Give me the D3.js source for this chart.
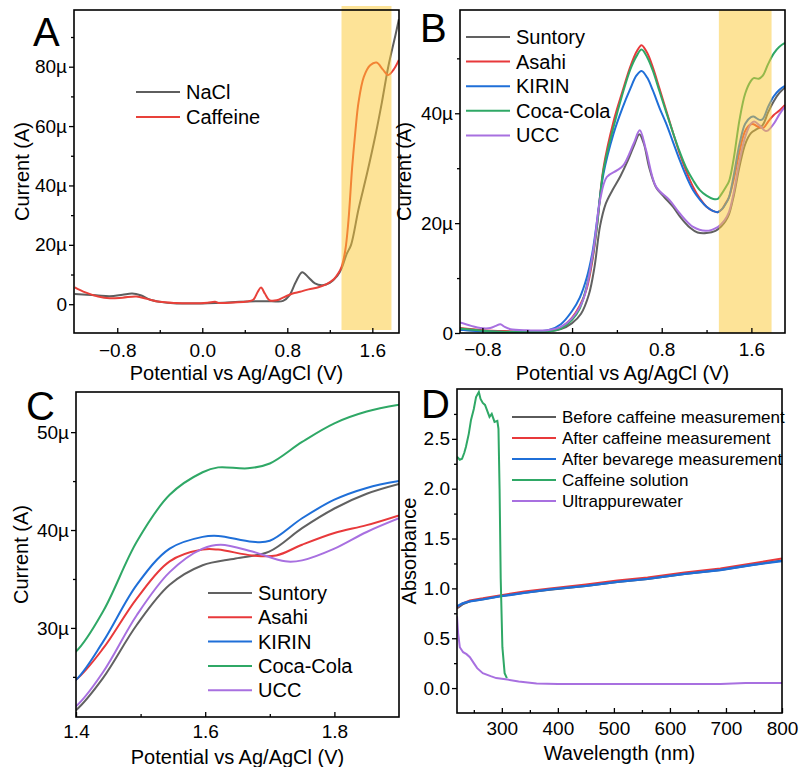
<!DOCTYPE html>
<html>
<head>
<meta charset="utf-8">
<script src="https://cdn.jsdelivr.net/npm/d3@7"></script>
<style>
    body { margin: 0; background: #fff; }
    svg text { font-family: "Liberation Sans", Arial, Helvetica, sans-serif; fill: #000; }
</style>
</head>
<body>
<svg id="fig" width="800" height="767"></svg>
<script>
// ---------- data (V, µA) ----------
const nacl = [[-1.2,3.4],[-1.0,3.0],[-0.87,2.7],[-0.75,3.2],[-0.66,3.6],[-0.58,3.0],[-0.49,1.5],[-0.38,0.7],
    [-0.27,0.3],[-0.1,0.2],[0.05,0.3],[0.2,0.5],[0.35,0.8],[0.5,1.0],[0.65,1.0],[0.76,1.1],[0.82,3.0],[0.88,7.5],
    [0.94,10.8],[1.0,9.0],[1.06,7.0],[1.13,6.4],[1.2,7.2],[1.27,9.5],[1.31,12],[1.36,17],[1.40,20],[1.47,32],
    [1.55,44],[1.63,57],[1.69,68],[1.75,80],[1.82,91],[1.85,96]];
const caffeine = [[-1.2,5.7],[-1.1,4.0],[-0.98,2.6],[-0.87,2.0],[-0.75,2.2],[-0.62,2.6],[-0.52,1.8],[-0.4,0.8],
    [-0.25,0.4],[-0.1,0.3],[0.05,0.5],[0.12,0.8],[0.16,0.4],[0.3,0.6],[0.42,0.9],[0.48,1.5],[0.52,4.0],[0.552,5.6],
    [0.59,3.5],[0.63,1.4],[0.70,1.3],[0.77,2.4],[0.85,3.6],[0.92,4.2],[1.0,5.0],[1.1,5.8],[1.17,6.8],[1.24,8.5],
    [1.28,10.4],[1.31,12.5],[1.345,18],[1.375,28],[1.41,46],[1.44,58],[1.47,68],[1.52,76.6],[1.58,80.5],
    [1.64,81.4],[1.70,79],[1.75,77.2],[1.80,79],[1.85,82.3]];

const suntory = [[-1.0,0.6],[-0.8,0.4],[-0.6,0.3],[-0.4,0.2],[-0.2,0.3],[-0.1,0.7],[0.0,1.8],[0.08,3.5],[0.15,7],
    [0.2,12],[0.25,19.5],[0.3,23.5],[0.36,26],[0.43,28.5],[0.5,31.5],[0.56,34.5],[0.6,36.2],[0.64,34.5],[0.69,30],
    [0.75,26.5],[0.82,24.8],[0.9,23],[0.97,21],[1.05,19.2],[1.12,18.3],[1.2,18.2],[1.28,18.6],[1.33,19.4],[1.37,20.4],
    [1.4,21.6],[1.442,24.9],[1.494,30.3],[1.545,34.4],[1.596,36.4],[1.647,37.1],[1.699,37.8],[1.75,40.2],[1.80,42.2],
    [1.85,43.7],[1.9,44.7]];
const asahi = [[-1.0,0.9],[-0.8,0.5],[-0.6,0.3],[-0.4,0.2],[-0.2,0.4],[-0.1,1.0],[0.0,2.8],[0.07,5],[0.13,8],
    [0.18,13],[0.22,19],[0.28,30],[0.37,38.5],[0.45,44],[0.52,48.5],[0.575,51.2],[0.62,52.4],[0.67,51],[0.72,48.4],
    [0.78,44.5],[0.84,40.5],[0.9,36.5],[0.96,32.7],[1.02,29.4],[1.08,26.6],[1.14,24.5],[1.2,23],[1.26,22.2],[1.3,22.0],
    [1.34,22.6],[1.37,23.6],[1.4,24.7],[1.442,27.9],[1.494,33.0],[1.545,36.8],[1.596,38.0],[1.62,38.0],[1.673,37.4],
    [1.71,37.4],[1.75,38.5],[1.80,39.7],[1.85,40.5],[1.9,41.5]];
const kirin = [[-1.0,0.6],[-0.8,0.3],[-0.6,0.2],[-0.4,0.2],[-0.2,0.6],[-0.1,1.6],[0.0,4.0],[0.07,6.5],[0.13,10],
    [0.18,14.5],[0.22,20],[0.28,29],[0.37,36.3],[0.45,41],[0.52,44.5],[0.575,46.9],[0.62,47.7],[0.67,46.5],[0.72,44.2],
    [0.78,41],[0.84,38.1],[0.9,34.8],[0.96,31.5],[1.02,28.5],[1.08,26],[1.14,24.3],[1.2,23],[1.26,22.2],[1.3,22.0],
    [1.34,22.6],[1.37,23.5],[1.4,24.7],[1.442,28.6],[1.494,34.4],[1.545,38.1],[1.596,39.3],[1.62,39.4],[1.673,38.8],
    [1.70,38.9],[1.75,41.2],[1.80,43.1],[1.85,44.3],[1.9,45.0]];
const cocaCola = [[-1.0,0.8],[-0.8,0.4],[-0.6,0.2],[-0.4,0.2],[-0.2,0.3],[-0.1,0.8],[0.0,2.4],[0.07,4.5],[0.13,8.5],
    [0.18,13.5],[0.22,19],[0.28,29.6],[0.37,37.5],[0.45,43.5],[0.52,48],[0.575,50.4],[0.62,51.6],[0.67,50.2],[0.72,47.8],
    [0.78,44],[0.84,40.2],[0.9,36.5],[0.96,33],[1.02,30],[1.08,27.8],[1.14,26],[1.2,25],[1.26,24.4],[1.3,24.4],
    [1.33,25.2],[1.37,26.5],[1.4,27.6],[1.442,31.7],[1.494,38.8],[1.545,43.6],[1.596,45.9],[1.62,46.4],[1.666,46.3],
    [1.70,46.8],[1.75,49.0],[1.80,50.9],[1.85,52.1],[1.9,52.8]];
const ucc = [[-1.0,1.9],[-0.9,1.3],[-0.818,0.9],[-0.73,0.9],[-0.68,1.3],[-0.64,1.6],[-0.6,1.1],[-0.55,0.7],
    [-0.4,0.5],[-0.22,0.5],[-0.1,1.1],[0.0,2.7],[0.1,6.1],[0.19,15.1],[0.25,24.2],[0.31,28.4],[0.4,29.6],[0.457,30.5],
    [0.55,34.5],[0.604,36.9],[0.66,33.3],[0.75,26.6],[0.87,24.2],[0.96,21.8],[1.08,19.3],[1.196,18.6],[1.3,19.3],
    [1.36,20.5],[1.4,22.0],[1.442,25.5],[1.494,31.3],[1.545,35.7],[1.596,38.1],[1.624,38.5],[1.673,37.8],[1.724,36.8],
    [1.75,36.9],[1.80,38.1],[1.85,39.8],[1.9,41.2]];

// UV-vis (nm, absorbance)
const beforeCaf = [[220,0.80],[230,0.84],[243,0.87],[266,0.89],[296,0.92],[340,0.955],[386,0.985],[450,1.025],
    [506,1.065],[560,1.095],[626,1.145],[690,1.185],[746,1.235],[800,1.28]];
const afterCaf = [[220,0.81],[230,0.85],[243,0.88],[266,0.90],[296,0.93],[340,0.97],[386,1.00],[450,1.04],
    [506,1.08],[560,1.11],[626,1.16],[690,1.20],[746,1.25],[800,1.30]];
const afterBev = [[220,0.82],[230,0.85],[243,0.87],[266,0.89],[296,0.92],[340,0.955],[386,0.99],[450,1.025],
    [506,1.065],[560,1.095],[626,1.145],[690,1.185],[746,1.235],[800,1.275]];
const cafSolution = [[220,2.32],[225,2.29],[229,2.30],[233,2.36],[236,2.42],[241,2.55],[245,2.69],[250,2.80],
    [254,2.92],[257,2.95],[259,2.97],[262,2.90],[266,2.86],[270,2.84],[274,2.78],[278,2.72],[282,2.75],[287,2.67],
    [292,2.68],[294,2.60],[296,2.00],[298,1.10],[301,0.41],[305,0.15],[309,0.10]];
const water = [[220,0.72],[222,0.55],[225,0.41],[231,0.36],[237,0.34],[243,0.31],[250,0.25],[256,0.20],[266,0.15],
    [280,0.12],[290,0.10],[310,0.085],[330,0.065],[362,0.045],[400,0.04],[500,0.04],[600,0.04],[690,0.04],
    [735,0.05],[800,0.05]];

const aNames = ["NaCl", "Caffeine"];
const aColors = ["#5e5e5e", "#e8413a"];
const brandNames = ["Suntory", "Asahi", "KIRIN", "Coca-Cola", "UCC"];
const brandColors = ["#616161", "#e8393b", "#1f6fd8", "#2fa866", "#a870e0"];
const uvNames = ["Before caffeine measurement", "After caffeine measurement", "After bevarege measurement",
    "Caffeine solution", "Ultrappurewater"];
const uvColors = ["#5a5a5a", "#e8393b", "#1f6fd8", "#2fa866", "#a870e0"];
const highlight = [1.31, 1.78];

const svg = d3.select("#fig");
let clipId = 0;

function makePanel(o) {
    let p = {};
    let [x0, y0, x1, y1] = o.box;
    p.x = d3.scaleLinear().domain(o.xDomain).range([x0, x1]);
    p.y = d3.scaleLinear().domain(o.yDomain).range([y1, y0]);
    let id = "clip" + (clipId++);
    svg.append("defs").append("clipPath").attr("id", id)
        .append("rect").attr("x", x0).attr("y", y0).attr("width", x1 - x0).attr("height", y1 - y0);
    p.lines = svg.append("g").attr("clip-path", "url(#" + id + ")");
    p.line = d3.line().x(d => p.x(d[0])).y(d => p.y(d[1])).curve(o.curve || d3.curveCatmullRom.alpha(0.5));

    p.finish = function () {
        svg.append("g").attr("transform", "translate(0," + y1 + ")")
            .call(d3.axisBottom(p.x).tickValues(o.xMajor).tickFormat(o.xFmt)
                .tickSizeInner(-5).tickSizeOuter(0).tickPadding(o.xPad))
            .attr("font-size", 19).attr("font-family", null);
        svg.append("g").attr("transform", "translate(0," + y1 + ")")
            .call(d3.axisBottom(p.x).tickValues(o.xMinor).tickFormat("").tickSizeInner(-3).tickSizeOuter(0));
        svg.append("g").attr("transform", "translate(" + x0 + ",0)")
            .call(d3.axisLeft(p.y).tickValues(o.yMajor).tickFormat(o.yFmt)
                .tickSizeInner(5).tickSizeOuter(0).tickPadding(2))
            .attr("font-size", 19).attr("font-family", null);
        svg.append("g").attr("transform", "translate(" + x0 + ",0)")
            .call(d3.axisLeft(p.y).tickValues(o.yMinor).tickFormat("").tickSizeInner(3).tickSizeOuter(0));
        svg.selectAll(".domain").remove();
        svg.selectAll(".tick line").attr("stroke", "#000").attr("stroke-width", 1.3);

        svg.append("rect").attr("x", x0).attr("y", y0).attr("width", x1 - x0).attr("height", y1 - y0)
            .attr("fill", "none").attr("stroke", "#000").attr("stroke-width", 1.6);

        svg.append("text").attr("x", (x0 + x1) / 2).attr("y", y1 + 47)
            .attr("text-anchor", "middle").attr("font-size", 20).text(o.xTitle);
        svg.append("text").attr("transform", "translate(" + o.yTitleX + "," + ((y0 + y1) / 2) + ") rotate(-90)")
            .attr("text-anchor", "middle").attr("font-size", 20).text(o.yTitle);
        svg.append("text").attr("x", o.letter[1]).attr("y", o.letter[2])
            .attr("font-size", 40).text(o.letter[0]);
    };

    p.legend = function (names, colors, lx, ly, step, size) {
        names.forEach((n, i) => {
            svg.append("line").attr("x1", lx).attr("x2", lx + 44)
                .attr("y1", ly + i * step).attr("y2", ly + i * step)
                .attr("stroke", colors[i]).attr("stroke-width", 2);
            svg.append("text").attr("x", lx + 50).attr("y", ly + i * step).attr("dy", "0.35em")
                .attr("font-size", size).text(n);
        });
    };
    return p;
}

const micro = d => d === 0 ? "0" : d + "µ";
const volt = d => d3.format(".1f")(d);

// ---------- A ----------
let pa = makePanel({
    box: [74, 10, 399, 333], xDomain: [-1.207, 1.851], yDomain: [-9.7, 99.1],
    xMajor: [-0.8, 0, 0.8, 1.6], xMinor: [-0.4, 0.4, 1.2], xFmt: volt, xPad: 11,
    yMajor: [0, 20, 40, 60, 80], yMinor: [10, 30, 50, 70, 90], yFmt: micro,
    xTitle: "Potential vs Ag/AgCl (V)", yTitle: "Current (A)", yTitleX: 29, letter: ["A", 33, 46]
});
[nacl, caffeine].forEach((s, i) => {
    pa.lines.append("path").datum(s).attr("d", pa.line).attr("fill", "none")
        .attr("stroke", aColors[i]).attr("stroke-width", 2);
});
svg.append("rect").attr("x", pa.x(highlight[0])).attr("width", pa.x(highlight[1]) - pa.x(highlight[0]))
    .attr("y", 6).attr("height", 324).attr("fill", "rgb(251,200,48)").attr("opacity", 0.5);
pa.finish();
pa.legend(aNames, aColors, 136, 92, 25, 20);

// ---------- B ----------
const brandSeries = [suntory, asahi, kirin, cocaCola, ucc];
let pb = makePanel({
    box: [460, 10, 785, 333], xDomain: [-1.0, 1.9], yDomain: [0, 58.8],
    xMajor: [-0.8, 0, 0.8, 1.6], xMinor: [-0.4, 0.4, 1.2], xFmt: d => volt(d).replace("-", "\u2212"), xPad: 10,
    yMajor: [0, 20, 40], yMinor: [10, 30, 50], yFmt: micro,
    xTitle: "Potential vs Ag/AgCl (V)", yTitle: "Current (A)", yTitleX: 411, letter: ["B", 420, 42]
});
brandSeries.forEach((s, i) => {
    pb.lines.append("path").datum(s).attr("d", pb.line).attr("fill", "none")
        .attr("stroke", brandColors[i]).attr("stroke-width", 2);
});
svg.append("rect").attr("x", pb.x(highlight[0])).attr("width", pb.x(highlight[1]) - pb.x(highlight[0]))
    .attr("y", 10).attr("height", 323).attr("fill", "rgb(251,200,48)").attr("opacity", 0.5);
pb.finish();
pb.legend(brandNames, brandColors, 466, 37, 24.6, 20);

// ---------- C ----------
let pc = makePanel({
    box: [76, 392, 399, 717], xDomain: [1.4, 1.9], yDomain: [20.9, 54.1],
    xMajor: [1.4, 1.6, 1.8], xMinor: [1.5, 1.7], xFmt: volt, xPad: 8,
    yMajor: [30, 40, 50], yMinor: [25, 35, 45], yFmt: micro,
    xTitle: "Potential vs Ag/AgCl (V)", yTitle: "Current (A)", yTitleX: 28, letter: ["C", 26, 420]
});
brandSeries.forEach((s, i) => {
    pc.lines.append("path").datum(s).attr("d", pc.line).attr("fill", "none")
        .attr("stroke", brandColors[i]).attr("stroke-width", 2);
});
pc.finish();
pc.legend(brandNames, brandColors, 208, 593, 24.3, 20);

// ---------- D ----------
let pd = makePanel({
    box: [457, 389, 782, 713], xDomain: [220, 800], yDomain: [-0.25, 3.0], curve: d3.curveLinear,
    xMajor: [300, 400, 500, 600, 700, 800], xMinor: [250, 350, 450, 550, 650, 750], xFmt: d3.format("d"), xPad: 9,
    yMajor: [0, 0.5, 1.0, 1.5, 2.0, 2.5], yMinor: [0.25, 0.75, 1.25, 1.75, 2.25, 2.75], yFmt: d3.format(".1f"),
    xTitle: "Wavelength (nm)", yTitle: "Absorbance", yTitleX: 416, letter: ["D", 421, 418]
});
[beforeCaf, afterCaf, afterBev, cafSolution, water].forEach((s, i) => {
    pd.lines.append("path").datum(s).attr("d", pd.line).attr("fill", "none")
        .attr("stroke", uvColors[i]).attr("stroke-width", i === 2 ? 2.4 : 2);
});
pd.finish();
pd.legend(uvNames, uvColors, 512, 417, 21, 17);
</script>
</body>
</html>
